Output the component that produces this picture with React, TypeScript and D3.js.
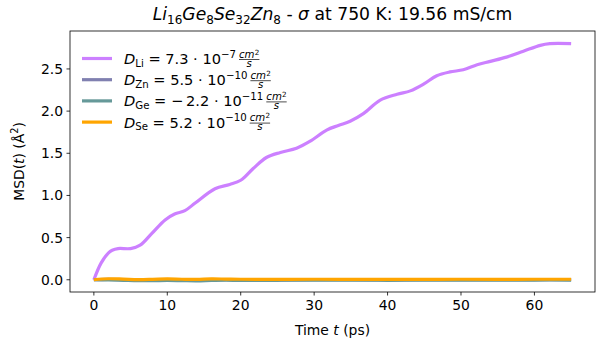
import React, { useEffect, useRef } from 'react';
import * as d3 from 'd3';

// Li MSD curve (time in ps, MSD in Å^2)
const timeLi = [0, 1, 2, 2.5, 3.3, 5, 6.3, 7.9, 9.7, 11, 12.4, 13.8, 16.5, 18.5, 20, 21.7, 23.5, 25.4, 27.6, 29.4, 31.7, 33.3, 34.9, 36.7, 39, 41.3, 43.1, 44.9, 46.7, 48.5, 50.3, 52.2, 54, 56.2, 58.5, 60.8, 62.1, 65];
const msdLi = [0, 0.2, 0.32, 0.35, 0.37, 0.37, 0.41, 0.55, 0.71, 0.78, 0.82, 0.91, 1.08, 1.13, 1.18, 1.32, 1.45, 1.51, 1.56, 1.64, 1.775, 1.83, 1.88, 1.97, 2.13, 2.2, 2.24, 2.32, 2.42, 2.465, 2.49, 2.55, 2.59, 2.64, 2.71, 2.78, 2.8, 2.8];

// Other species (nearly flat)
const timeSmall = [0, 2, 4, 6, 8, 10, 12, 14, 16, 18, 20, 25, 30, 35, 40, 45, 50, 55, 60, 65];
const msdZn = [0, 0.005, 0.0, -0.005, -0.003, 0.002, 0.0, -0.004, 0.0, 0.002, -0.002, -0.003, 0, 0.001, -0.002, 0, 0.001, 0, 0.002, 0.002];
const msdGe = [0, -0.002, -0.006, -0.01, -0.01, -0.008, -0.01, -0.012, -0.008, -0.005, -0.008, -0.006, -0.004, -0.004, -0.006, -0.005, -0.004, -0.004, -0.003, -0.003];
const msdSe = [0, 0.012, 0.008, 0.002, 0.005, 0.01, 0.006, 0.004, 0.01, 0.008, 0.006, 0.004, 0.006, 0.005, 0.004, 0.005, 0.006, 0.005, 0.006, 0.006];

const xTicks = [0, 10, 20, 30, 40, 50, 60];
const yTicks = [0, 0.5, 1.0, 1.5, 2.0, 2.5];

const legendSpecies = ['Li', 'Zn', 'Ge', 'Se'];
const legendMantissa = ['7.3', '5.5', '\u2212\u20092.2', '5.2'];
const legendExponent = ['\u22127', '\u221210', '\u221211', '\u221210'];
const seriesColors = ['#cc80ff', '#8080b0', '#669999', '#ffa500'];

const FONT = 'DejaVu Sans';

export default function App() {
  const ref = useRef<SVGSVGElement>(null);

  useEffect(() => {
    const svg = d3.select(ref.current);
    svg.selectAll('*').remove();
    svg.attr('font-family', FONT);

    const L = 70, R = 595, T = 31, B = 292;
    const x = d3.scaleLinear().domain([-3.25, 68.25]).range([L, R]);
    const y = d3.scaleLinear().domain([-0.145, 2.95]).range([B, T]);

    svg.append('rect').attr('width', 600).attr('height', 348).attr('fill', 'white');

    const series: [number[], number[]][] = [
      [timeLi, msdLi],
      [timeSmall, msdZn],
      [timeSmall, msdGe],
      [timeSmall, msdSe],
    ];
    const line = d3.line<[number, number]>()
      .x(d => x(d[0]))
      .y(d => y(d[1]))
      .curve(d3.curveCatmullRom.alpha(0.5));

    series.forEach(([ts, vs], i) => {
      const pts: [number, number][] = ts.map((t, k) => [t, vs[k]]);
      svg.append('path')
        .attr('d', line(pts) as string)
        .attr('fill', 'none')
        .attr('stroke', seriesColors[i])
        .attr('stroke-width', 3.2)
        .attr('stroke-linecap', 'butt')
        .attr('stroke-linejoin', 'round');
    });

    // spines
    svg.append('rect')
      .attr('x', L).attr('y', T).attr('width', R - L).attr('height', B - T)
      .attr('fill', 'none').attr('stroke', 'black').attr('stroke-width', 0.8);

    // x ticks
    xTicks.forEach(t => {
      svg.append('line').attr('x1', x(t)).attr('x2', x(t)).attr('y1', B).attr('y2', B + 3.5)
        .attr('stroke', 'black').attr('stroke-width', 0.8);
      svg.append('text').attr('x', x(t)).attr('y', B + 17.5).attr('text-anchor', 'middle')
        .attr('font-size', 13.9).text(String(t));
    });
    // y ticks
    yTicks.forEach(v => {
      svg.append('line').attr('x1', L - 3.5).attr('x2', L).attr('y1', y(v)).attr('y2', y(v))
        .attr('stroke', 'black').attr('stroke-width', 0.8);
      svg.append('text').attr('x', L - 7).attr('y', y(v) + 5).attr('text-anchor', 'end')
        .attr('font-size', 13.9).text(v.toFixed(1));
    });

    // x label
    const xl = svg.append('text').attr('x', (L + R) / 2).attr('y', 335).attr('text-anchor', 'middle')
      .attr('font-size', 13.9);
    xl.append('tspan').text('Time ');
    xl.append('tspan').attr('font-style', 'italic').text('t');
    xl.append('tspan').text(' (ps)');

    // y label
    const yl = svg.append('text')
      .attr('transform', `translate(24,${(T + B) / 2}) rotate(-90)`)
      .attr('text-anchor', 'middle').attr('font-size', 13.9);
    yl.append('tspan').text('MSD(');
    yl.append('tspan').attr('font-style', 'italic').text('t');
    yl.append('tspan').text(') (Å');
    yl.append('tspan').attr('font-size', 9.7).attr('dy', -6).text('2');
    yl.append('tspan').attr('dy', 6).text(')');

    // title
    const tt = svg.append('text').attr('x', (L + R) / 2).attr('y', 20).attr('text-anchor', 'middle')
      .attr('font-size', 17.2);
    const formula: [string, string][] = [['Li', '16'], ['Ge', '8'], ['Se', '32'], ['Zn', '8']];
    formula.forEach(([el, n], k) => {
      tt.append('tspan').attr('font-style', 'italic').attr('dy', k === 0 ? 0 : -3.5).text(el);
      tt.append('tspan').attr('font-size', 12).attr('dy', 3.5).text(n);
    });
    tt.append('tspan').attr('dy', -3.5).text(' - ');
    tt.append('tspan').attr('font-style', 'italic').text('σ');
    tt.append('tspan').text(' at 750 K: 19.56 mS/cm');

    // legend
    const legY0 = 58.5, legDy = 21.2;
    const fs = 14.6, fsSmall = 10.2, fsFrac = 10.2;
    legendSpecies.forEach((sp, i) => {
      const gy = legY0 + i * legDy;
      svg.append('line').attr('x1', 82).attr('x2', 112).attr('y1', gy).attr('y2', gy)
        .attr('stroke', seriesColors[i]).attr('stroke-width', 3.2);
      const base = gy + 5.5;
      const tx = svg.append('text').attr('x', 124).attr('y', base).attr('font-size', fs);
      tx.append('tspan').attr('font-style', 'italic').text('D');
      tx.append('tspan').attr('font-size', fsSmall).attr('dy', 2.5).text(sp);
      tx.append('tspan').attr('dy', -2.5).text(' = ' + legendMantissa[i] + ' · 10');
      tx.append('tspan').attr('font-size', fsSmall).attr('dy', -6.5).text(legendExponent[i]);
      const len = (tx.node() as SVGTextElement).getComputedTextLength();
      const fx = 124 + len + 3;
      const barY = gy + 1;
      // fraction cm^2 / s, in the same text element
      const cm = tx.append('tspan').attr('x', fx).attr('y', barY - 1.8)
        .attr('font-size', fsFrac).attr('font-style', 'italic').text('cm');
      const cw = (cm.node() as SVGTextContentElement).getComputedTextLength();
      const sq = tx.append('tspan').attr('x', fx + cw + 0.3).attr('y', barY - 5)
        .attr('font-size', 7.2).text('2');
      const sw = (sq.node() as SVGTextContentElement).getComputedTextLength();
      const nw = cw + 0.3 + sw;
      const ss = tx.append('tspan').attr('x', fx).attr('y', barY + 7)
        .attr('font-size', fsFrac).attr('font-style', 'italic').text('s');
      const dw = (ss.node() as SVGTextContentElement).getComputedTextLength();
      ss.attr('x', fx + (nw - dw) / 2);
      svg.append('line').attr('x1', fx).attr('x2', fx + nw).attr('y1', barY).attr('y2', barY)
        .attr('stroke', 'black').attr('stroke-width', 0.7);
    });
  }, []);

  return (
    <svg ref={ref} width={600} height={348}
      style={{ display: 'block', position: 'absolute', left: 0, top: 0 }} />
  );
}
